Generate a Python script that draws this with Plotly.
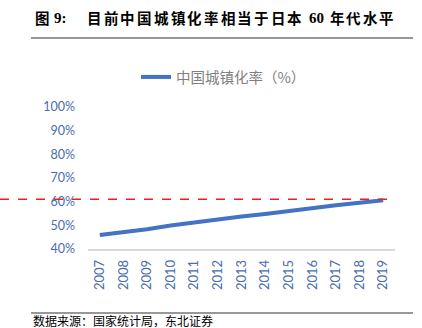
import plotly.graph_objects as go

years = ["2007", "2008", "2009", "2010", "2011", "2012", "2013", "2014", "2015", "2016", "2017", "2018", "2019"]
urban_rate = [45.89, 46.99, 48.34, 49.95, 51.27, 52.57, 53.73, 54.77, 56.10, 57.35, 58.52, 59.58, 60.60]
ref_level = 61
y_ticks = [40, 50, 60, 70, 80, 90, 100]
y_tick_text = [f"{v}%" for v in y_ticks]

W, H = 422, 328
L, R, T, B = 88, 27, 107, 79
pw = W - L - R
ph = H - T - B

def px(x):
    return (x - L) / pw

def py(y):
    return 1 - (y - T) / ph

TICK = "#4A6CB0"

fig = go.Figure()
fig.add_trace(go.Scatter(
    x=years, y=urban_rate, mode="lines", name="中国城镇化率（%）",
    line=dict(color="#4472C4", width=4),
))

fig.update_layout(
    width=W, height=H,
    margin=dict(l=L, r=R, t=T, b=B),
    paper_bgcolor="white", plot_bgcolor="white",
    font=dict(family="Lato, Noto Sans CJK SC", color=TICK),
    showlegend=True,
    legend=dict(orientation="h", x=px(136), y=py(77), xanchor="left", yanchor="middle",
                font=dict(size=14.5, color="#7F7F7F", family="Noto Sans CJK SC"),
                bgcolor="rgba(0,0,0,0)"),
    xaxis=dict(type="category", range=[-0.5, 12.5], tickangle=-90, showgrid=False,
               showline=True, linecolor="#D9D9D9", linewidth=1.5, ticks="",
               ticklabelstandoff=4,
               tickfont=dict(size=13, color=TICK, family="Lato")),
    yaxis=dict(range=[40, 100], tickvals=y_ticks, ticktext=y_tick_text, showgrid=False,
               zeroline=False, ticks="", ticklabelstandoff=12,
               tickfont=dict(size=12.5, color=TICK, family="Lato")),
)

fig.add_shape(type="line", xref="paper", yref="y", x0=px(0), x1=px(387),
              y0=ref_level, y1=ref_level, line=dict(color="#E8211F", width=1.5, dash="dash"))

# title: place characters individually to mimic the wide letter spacing
def put_chars(x_start, pitch, chars, fam, size=14.5):
    for i, ch in enumerate(chars):
        fig.add_annotation(xref="paper", yref="paper", x=px(x_start + i * pitch), y=py(18),
                           xanchor="left", yanchor="middle", showarrow=False,
                           text=f"<b>{ch}</b>", font=dict(size=size, color="black", family=fam))

put_chars(33, 0, "图", "Noto Sans CJK SC")
fig.add_annotation(xref="paper", yref="paper", x=px(52), y=py(18), xanchor="left", yanchor="middle",
                   showarrow=False, text="<b>9:</b>", font=dict(size=15, color="black", family="Liberation Serif"))
put_chars(85, 16.7, "目前中国城镇化率相当于日本", "Noto Sans CJK SC")
fig.add_annotation(xref="paper", yref="paper", x=px(307), y=py(18), xanchor="left", yanchor="middle",
                   showarrow=False, text="<b>60</b>", font=dict(size=15, color="black", family="Liberation Serif"))
put_chars(328, 16.3, "年代水平", "Noto Sans CJK SC")

fig.add_shape(type="line", xref="paper", yref="paper", x0=px(31), x1=px(413),
              y0=py(38), y1=py(38), line=dict(color="#333333", width=1.2))
fig.add_shape(type="line", xref="paper", yref="paper", x0=px(31), x1=px(413),
              y0=py(313), y1=py(313), line=dict(color="#333333", width=1.2))
fig.add_annotation(xref="paper", yref="paper", x=px(31), y=py(320.5),
                   xanchor="left", yanchor="middle", showarrow=False,
                   text="数据来源：国家统计局，东北证券",
                   font=dict(size=12, color="black", family="Noto Sans CJK SC"))

fig.write_html("out.html")
